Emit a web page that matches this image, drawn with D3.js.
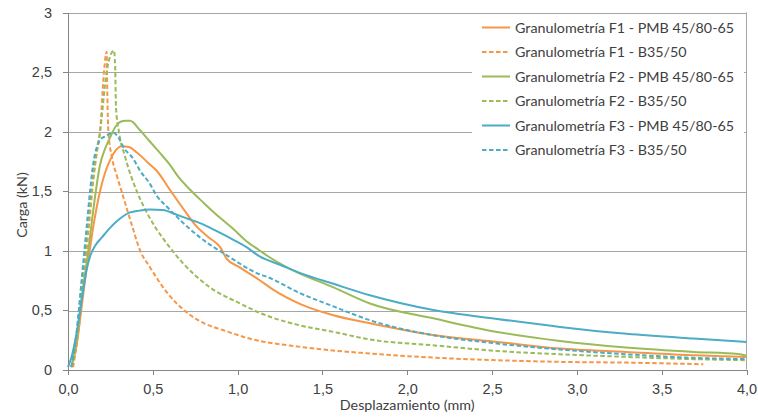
<!DOCTYPE html>
<html>
<head>
  <meta http-equiv="Content-Type" content="text/html; charset=UTF-8">
  <style>
    body { margin: 0; background: #fff; }
    svg { font-family: Lato, "Open Sans", sans-serif; }
    .grid line { stroke: #a6a6a6; stroke-width: 1; shape-rendering: crispEdges; }
    .axis path, .axis line { stroke: #868686; shape-rendering: crispEdges; }
    .axis text { fill: #404040; font-size: 14.5px; }
    .series { fill: none; stroke-width: 2px; stroke-linejoin: round; }
    .legend text { fill: #404040; font-size: 14.3px; }
    .title { fill: #404040; font-size: 14.3px; }
  </style>
</head>
<body>
  <svg width="758" height="417"></svg>
  <script src="https://cdn.jsdelivr.net/npm/d3@7"></script>
  <script>
    // displacement (mm), load (kN)
    var f1Pmb = [[0.02,0.02],[0.05,0.2],[0.08,0.52],[0.11,0.85],[0.13,1.02],[0.149,1.2],[0.17,1.37],[0.189,1.5],[0.22,1.66],[0.248,1.76],[0.28,1.84],[0.316,1.877],[0.36,1.87],[0.40,1.83],[0.425,1.80],[0.47,1.74],[0.523,1.67],[0.601,1.51],[0.68,1.35],[0.759,1.2],[0.83,1.11],[0.896,1.03],[0.936,0.93],[1.01,0.86],[1.13,0.75],[1.2,0.68],[1.37,0.55],[1.565,0.456],[1.78,0.388],[2.15,0.29],[2.53,0.232],[2.9,0.176],[3.29,0.148],[3.69,0.12],[4.0,0.106]];
    var f1B35 = [[0.03,0.02],[0.06,0.3],[0.09,0.72],[0.12,1.15],[0.15,1.6],[0.17,1.82],[0.189,2.0],[0.212,2.5],[0.228,2.67],[0.232,2.3],[0.238,2.0],[0.258,1.79],[0.29,1.62],[0.326,1.45],[0.375,1.22],[0.425,1.0],[0.483,0.86],[0.582,0.65],[0.70,0.48],[0.80,0.39],[0.916,0.33],[1.07,0.26],[1.37,0.19],[1.78,0.134],[2.15,0.10],[2.53,0.078],[2.9,0.064],[3.29,0.058],[3.745,0.044]];
    var f2Pmb = [[0.02,0.02],[0.05,0.25],[0.08,0.6],[0.12,1.0],[0.15,1.35],[0.189,1.72],[0.22,1.86],[0.248,1.95],[0.28,2.04],[0.307,2.08],[0.34,2.09],[0.366,2.09],[0.425,2.01],[0.48,1.92],[0.542,1.82],[0.601,1.72],[0.65,1.62],[0.72,1.51],[0.8,1.40],[0.9,1.27],[0.975,1.18],[1.05,1.08],[1.13,1.0],[1.17,0.96],[1.33,0.83],[1.565,0.69],[1.78,0.555],[2.154,0.43],[2.53,0.316],[2.9,0.24],[3.29,0.185],[3.69,0.148],[3.95,0.13],[4.0,0.115]];
    var f2B35 = [[0.02,0.02],[0.05,0.3],[0.08,0.7],[0.11,1.1],[0.14,1.5],[0.165,1.8],[0.189,2.0],[0.228,2.5],[0.25,2.64],[0.271,2.68],[0.278,2.55],[0.283,2.2],[0.30,2.0],[0.336,1.79],[0.405,1.5],[0.45,1.36],[0.513,1.2],[0.582,1.06],[0.68,0.89],[0.837,0.69],[1.014,0.555],[1.13,0.476],[1.37,0.37],[1.565,0.316],[1.78,0.252],[2.15,0.204],[2.53,0.156],[2.9,0.128],[3.29,0.106],[3.69,0.087],[4.0,0.078]];
    var f3Pmb = [[0.0,0.02],[0.02,0.1],[0.05,0.3],[0.09,0.67],[0.11,0.84],[0.13,0.95],[0.16,1.04],[0.2,1.11],[0.248,1.19],[0.30,1.26],[0.366,1.32],[0.42,1.335],[0.483,1.345],[0.56,1.34],[0.641,1.30],[0.70,1.27],[0.778,1.23],[0.88,1.16],[0.975,1.09],[1.05,1.03],[1.13,0.95],[1.25,0.88],[1.37,0.81],[1.565,0.72],[1.78,0.624],[2.154,0.50],[2.53,0.425],[2.9,0.358],[3.294,0.30],[3.687,0.26],[4.0,0.232]];
    var f3B35 = [[0.02,0.02],[0.05,0.3],[0.08,0.75],[0.11,1.2],[0.13,1.5],[0.149,1.73],[0.17,1.87],[0.189,1.93],[0.22,1.96],[0.267,1.99],[0.297,1.95],[0.326,1.87],[0.385,1.77],[0.425,1.67],[0.483,1.56],[0.523,1.46],[0.582,1.37],[0.68,1.23],[0.778,1.11],[0.936,0.96],[1.13,0.80],[1.17,0.78],[1.37,0.64],[1.565,0.53],[1.78,0.414],[2.154,0.288],[2.53,0.218],[2.9,0.168],[3.29,0.128],[3.69,0.098],[4.0,0.087]];

    var seriesNames = ["Granulometría F1 - PMB 45/80-65", "Granulometría F1 - B35/50",
                       "Granulometría F2 - PMB 45/80-65", "Granulometría F2 - B35/50",
                       "Granulometría F3 - PMB 45/80-65", "Granulometría F3 - B35/50"];
    var seriesData = [f1Pmb, f1B35, f2Pmb, f2B35, f3Pmb, f3B35];
    var seriesColors = ["#f79646", "#f79646", "#9bbb59", "#9bbb59", "#4bacc6", "#4bacc6"];
    var seriesDashed = [false, true, false, true, false, true];

    var xTicks = [0, 0.5, 1, 1.5, 2, 2.5, 3, 3.5, 4],
        xTickLabels = ["0,0", "0,5", "1,0", "1,5", "2,0", "2,5", "3,0", "3,5", "4,0"],
        yTicks = [0, 0.5, 1, 1.5, 2, 2.5, 3],
        yTickLabels = ["0", "0,5", "1", "1,5", "2", "2,5", "3"];

    var svg = d3.select("svg"),
        margin = {top: 12.5, right: 11.5, bottom: 47.5, left: 68},
        width = 758 - margin.left - margin.right,
        height = 417 - margin.top - margin.bottom;

    var x = d3.scaleLinear().domain([0, 4]).range([0, width]),
        y = d3.scaleLinear().domain([0, 3]).range([height, 0]);

    var g = svg.append("g")
        .attr("transform", "translate(" + margin.left + "," + margin.top + ")");

    // horizontal gridlines
    g.append("g")
        .attr("class", "grid")
      .selectAll("line")
      .data(yTicks.slice(1))
      .enter().append("line")
        .attr("x1", 0)
        .attr("x2", width)
        .attr("y1", function(d) { return Math.round(y(d)) + 0.5; })
        .attr("y2", function(d) { return Math.round(y(d)) + 0.5; });

    // right border of the plot
    g.append("line")
        .attr("x1", width).attr("x2", width)
        .attr("y1", 0).attr("y2", height)
        .style("stroke", "#a6a6a6");

    var line = d3.line()
        .x(function(d) { return x(d[0]); })
        .y(function(d) { return y(d[1]); })
        .curve(d3.curveMonotoneX);

    // legend box sits over the gridlines, under the curves
    var legend = g.append("g")
        .attr("class", "legend")
        .attr("transform", "translate(404,0)");

    legend.append("rect")
        .attr("x", 0)
        .attr("y", 2)
        .attr("width", 272)
        .attr("height", 172)
        .attr("fill", "#fff");

    g.selectAll(".series")
        .data(seriesData)
        .enter().append("path")
        .attr("class", "series")
        .attr("d", line)
        .attr("stroke", function(d, i) { return seriesColors[i]; })
        .attr("stroke-dasharray", function(d, i) { return seriesDashed[i] ? "4.5,2.5" : null; });

    var xAxis = d3.axisBottom(x)
        .tickValues(xTicks)
        .tickFormat(function(d, i) { return xTickLabels[i]; })
        .tickSize(5)
        .tickSizeOuter(0)
        .tickPadding(9);

    var yAxis = d3.axisLeft(y)
        .tickValues(yTicks)
        .tickFormat(function(d, i) { return yTickLabels[i]; })
        .tickSize(5)
        .tickSizeOuter(0)
        .tickPadding(11);

    g.append("g")
        .attr("class", "axis axis--x")
        .attr("transform", "translate(0," + height + ")")
        .call(xAxis);

    g.append("g")
        .attr("class", "axis axis--y")
        .call(yAxis);

    var rows = legend.selectAll(".row")
        .data(seriesNames)
        .enter().append("g")
        .attr("class", "row")
        .attr("transform", function(d, i) { return "translate(0," + (15 + i * 24.5) + ")"; });

    rows.append("line")
        .attr("x1", 10)
        .attr("x2", 38)
        .attr("stroke-width", 2)
        .attr("stroke", function(d, i) { return seriesColors[i]; })
        .attr("stroke-dasharray", function(d, i) { return seriesDashed[i] ? "4.5,2.5" : null; });

    rows.append("text")
        .attr("x", 43)
        .attr("dy", "0.35em")
        .text(function(d) { return d; });

    svg.append("text")
        .attr("class", "title")
        .attr("text-anchor", "middle")
        .attr("x", margin.left + width / 2)
        .attr("y", 410)
        .text("Desplazamiento (mm)");

    svg.append("text")
        .attr("class", "title")
        .attr("text-anchor", "middle")
        .attr("transform", "translate(27,205) rotate(-90)")
        .text("Carga (kN)");
  </script>
</body>
</html>
